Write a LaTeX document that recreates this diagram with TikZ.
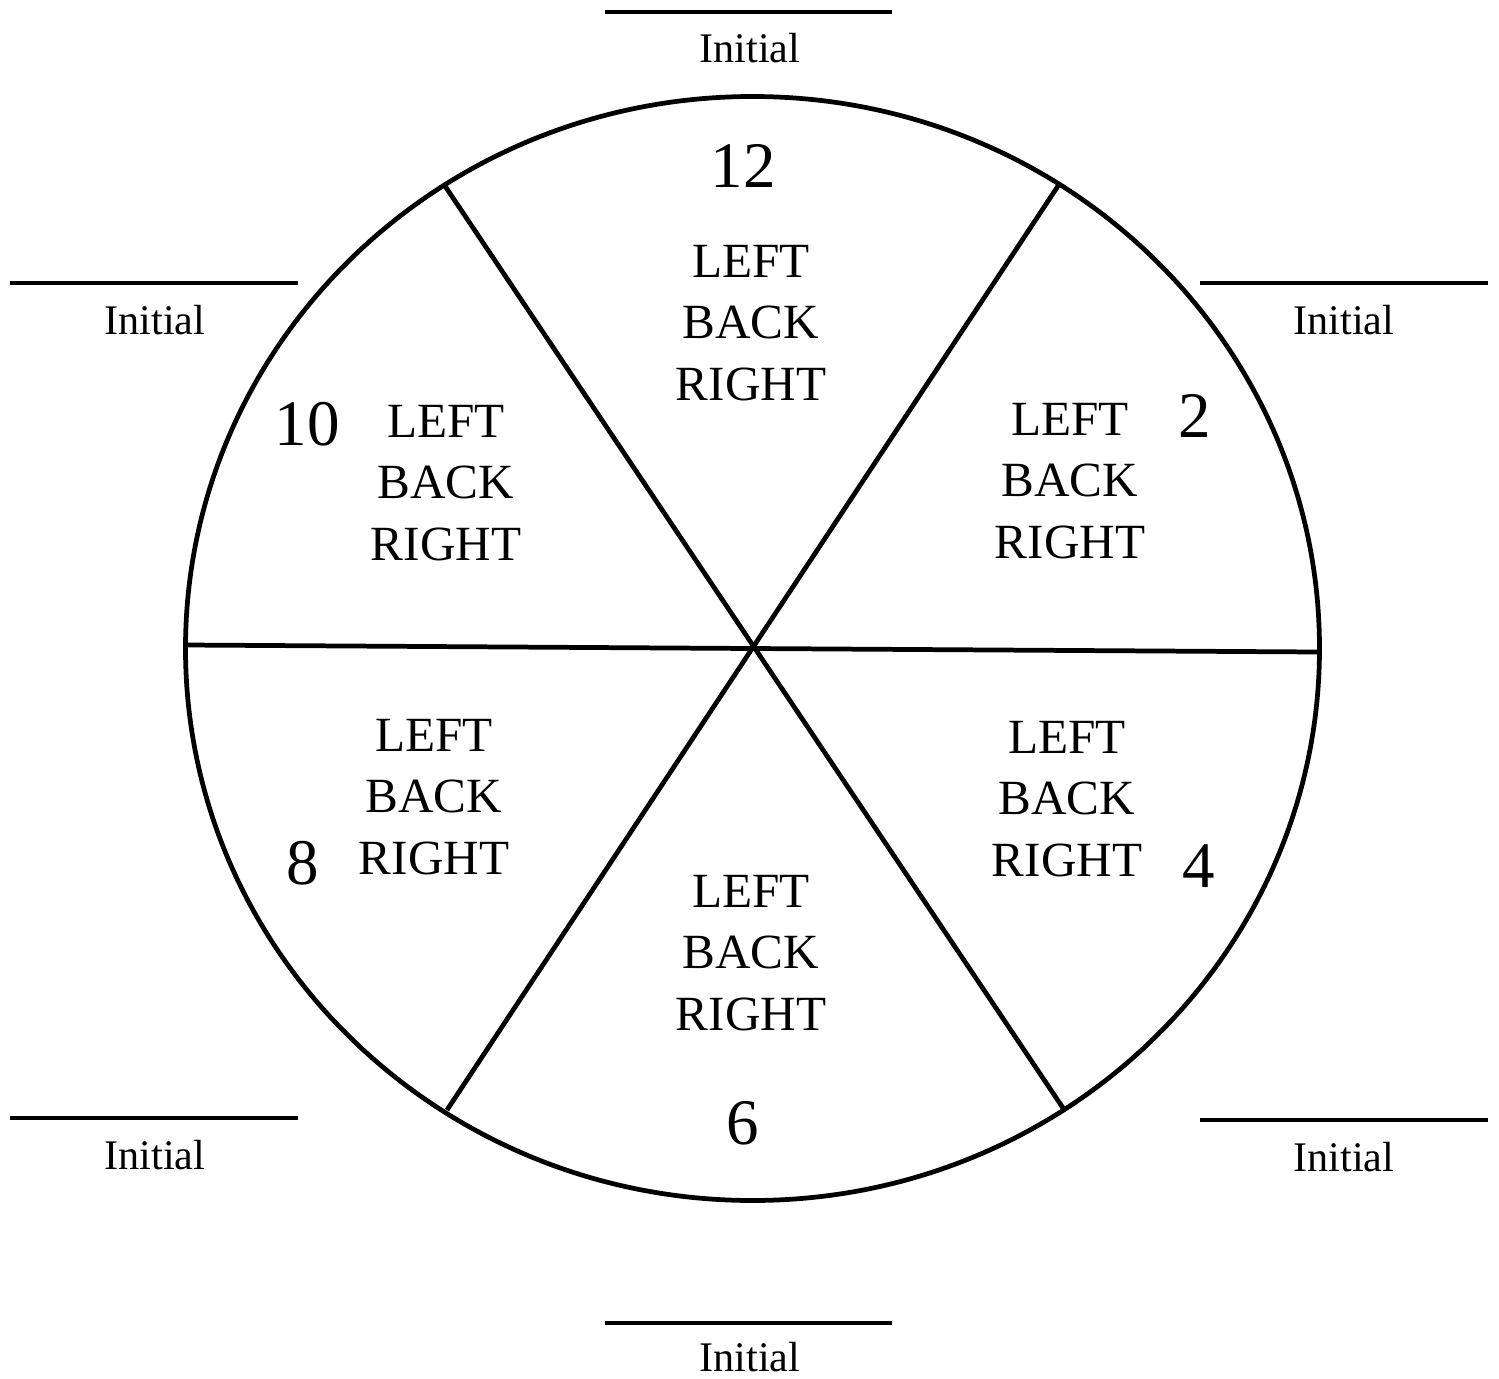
\documentclass[tikz,border=0pt]{standalone}
\usepackage{fontspec}
\setmainfont{Liberation Serif}
\usetikzlibrary{positioning}

\begin{document}
\begin{tikzpicture}[
    x=0.02cm, y=-0.02cm,
    rim/.style={line width=2.7pt},
    blank/.style={line width=2.7pt},
    initial/.style={font=\fontsize{24}{28}\selectfont, inner sep=0pt},
    moves/.style={align=center, inner sep=0pt, font=\fontsize{28}{34.8}\selectfont},
    hour/.style={inner sep=0pt, font=\fontsize{37}{40}\selectfont}
  ]
    \useasboundingbox (0,0) rectangle (1499,1379);
    % clock face
    \draw[rim] (752.5,648.5) ellipse [x radius=567, y radius=552];
    \draw[rim] (445,186) -- (1063,1108);
    \draw[rim] (1058,186) -- (447,1110);
    \draw[rim] (185,645) -- (1318,652);
    % blanks for initials
    \draw[blank] (605,12) -- (892,12);
    \node[initial] (i12) at (750,48) {Initial};
    \draw[blank] (10,283) -- (298,283);
    \node[initial] (i10) at (155,320) {Initial};
    \draw[blank] (1200,283) -- (1488,283);
    \node[initial] (i2) at (1344,320) {Initial};
    \draw[blank] (10,1118) -- (298,1118);
    \node[initial] (i8) at (155,1155) {Initial};
    \draw[blank] (1200,1120) -- (1488,1120);
    \node[initial] (i4) at (1344,1157) {Initial};
    \draw[blank] (605,1323) -- (892,1323);
    \node[initial] (i6) at (750,1357) {Initial};
    % sectors
    \node[moves] (m12) at (751,323) {LEFT\\BACK\\RIGHT};
    \node[moves] (m10) at (446,483) {LEFT\\BACK\\RIGHT};
    \node[moves] (m2) at (1070,481) {LEFT\\BACK\\RIGHT};
    \node[moves] (m8) at (434,797) {LEFT\\BACK\\RIGHT};
    \node[moves] (m4) at (1067,799) {LEFT\\BACK\\RIGHT};
    \node[moves] (m6) at (751,953) {LEFT\\BACK\\RIGHT};
    \node[hour] (h12) at (743,166) {12};
    \node[hour] (h10) at (307,424) {10};
    \node[hour] (h2) at (1195,416) {2};
    \node[hour] (h8) at (303,863) {8};
    \node[hour] (h4) at (1199,866) {4};
    \node[hour] (h6) at (743,1123) {6};
\end{tikzpicture}
\end{document}
